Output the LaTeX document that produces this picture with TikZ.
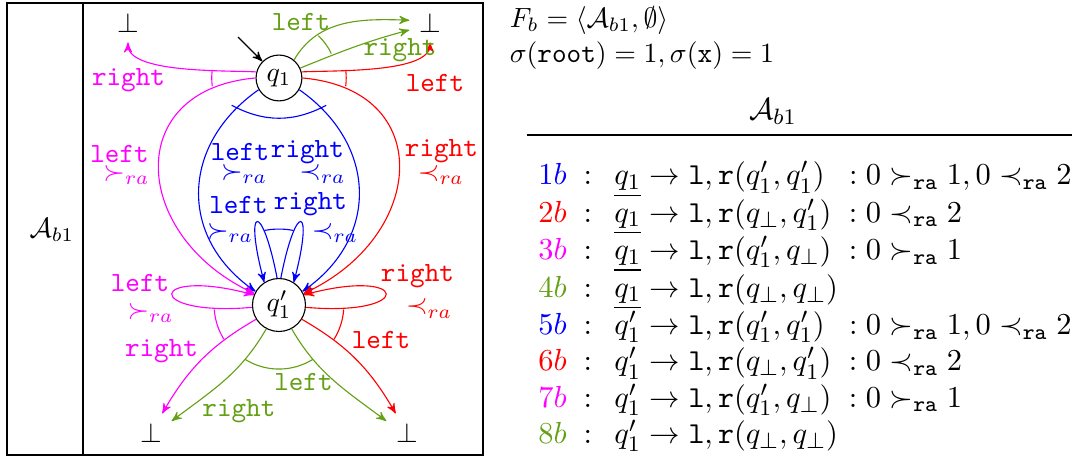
\documentclass[tikz,border=0pt]{standalone}
\usepackage{amsmath}
\usepackage{amssymb}
\usepackage{xcolor}
\usepackage{tikz}
\usetikzlibrary{arrows,positioning,calc}
\definecolor{leafgreen}{RGB}{100,160,20}
\definecolor{fuchsia}{RGB}{255,0,255}

\begin{document}
\begin{tikzpicture}[>=stealth',
    qstate/.style={circle,draw,inner sep=2pt},
    tlab/.style={font=\ttfamily},
    bigtext/.style={font=\fontsize{10.95}{13.6}\selectfont}]
    \useasboundingbox (0,0) rectangle (13.553,5.841);

    % Frame
    \draw[thick] (0.088,0.089) rectangle (6.106,5.803);
    \draw (1.049,0.089) -- (1.049,5.803);
    \node (aut) at (0.657,2.933) {$\mathcal{A}_{b1}$};

    % States
    \node[qstate] (q1) at (3.527,4.855) {$q_1$};
    \node[qstate] (q1p) at (3.527,1.985) {$q_1'$};
    \node (topL) at (1.618,5.55) {$\bot$};
    \node (topR) at (5.436,5.55) {$\bot$};
    \node (botL) at (1.909,0.367) {$\bot$};
    \node (botR) at (5.145,0.367) {$\bot$};
    \coordinate (init) at (3.009,5.373);
    \draw[->] (init) -- (q1);

    % 1b
    \draw[->,blue] (q1.-150) to[out=-145,in=145,looseness=1.2] (q1p.150);
    \draw[->,blue] (q1.-30) to[out=-35,in=35,looseness=1.2] (q1p.30);
    \draw[blue] ($(q1)+(-150:0.69)$) to[bend right=28] ($(q1)+(-30:0.69)$);
    \node[tlab,blue] (l1b) at (3.034,3.919) {left};
    \node[tlab,blue] (r1b) at (3.887,3.919) {right};
    \node[blue] (s1b) at (3.085,3.641) {$\succ_{ra}$};
    \node[blue] (p1b) at (4.077,3.641) {$\prec_{ra}$};

    % 2b
    \draw[->,red] (q1.15) to[out=3,in=-90,looseness=0.6] (topR);
    \draw[->,red] (q1.0) to[out=-5,in=25,looseness=1.6] (q1p.25);
    \draw[red] (q1) ++(-7:0.85) arc[start angle=-7,end angle=7,radius=0.85];
    \node[tlab,red] (l2b) at (5.499,4.791) {left};
    \node[tlab,red] (r2b) at (5.581,3.932) {right};
    \node[red] (p2b) at (5.575,3.628) {$\prec_{ra}$};

    % 3b
    \draw[->,fuchsia] (q1.165) to[out=177,in=-90,looseness=0.6] (topL);
    \draw[->,fuchsia] (q1.180) to[out=185,in=155,looseness=1.6] (q1p.155);
    \draw[fuchsia] (q1) ++(173:0.85) arc[start angle=173,end angle=187,radius=0.85];
    \node[tlab,fuchsia] (r3b) at (1.625,4.829) {right};
    \node[tlab,fuchsia] (l3b) at (1.511,3.894) {left};
    \node[fuchsia] (s3b) at (1.599,3.628) {$\succ_{ra}$};

    % 4b
    \draw[->,leafgreen] (q1.50) to[out=60,in=178] ([yshift=1pt]topR.west);
    \draw[->,leafgreen] (q1.25) to[out=22,in=195] ([yshift=-2.5pt]topR.west);
    \draw[leafgreen] (q1) ++(25:0.73) arc[start angle=25,end angle=47,radius=0.73];
    \node[tlab,leafgreen] (l4b) at (3.805,5.563) {left};
    \node[tlab,leafgreen] (r4b) at (5.057,5.209) {right};

    % 5b
    \draw[->,blue] (q1p.94) .. controls +(101:1.01) and +(105:1.01) .. (q1p.123);
    \draw[->,blue] (q1p.86) .. controls +(79:1.01) and +(75:1.01) .. (q1p.57);
    \draw[blue] (q1p) ++(79:0.96) arc[start angle=79,end angle=101,radius=0.96];
    \node[tlab,blue] (l5b) at (3.015,3.249) {left};
    \node[tlab,blue] (r5b) at (3.925,3.262) {right};
    \node[blue] (s5b) at (2.908,2.895) {$\succ_{ra}$};
    \node[blue] (p5b) at (4.235,2.895) {$\prec_{ra}$};

    % 6b
    \draw[->,red] (q1p.-5) .. controls +(-5:1.39) and +(15:1.39) .. (q1p.22);
    \draw[->,red] (q1p.-32) to[out=-30,in=120] (botR.120);
    \draw[red] (q1p) ++(-32:0.82) arc[start angle=-32,end angle=-4,radius=0.82];
    \node[tlab,red] (r6b) at (5.278,2.351) {right};
    \node[red] (p6b) at (5.424,1.941) {$\prec_{ra}$};
    \node[tlab,red] (l6b) at (4.817,1.536) {left};

    % 7b
    \draw[->,fuchsia] (q1p.185) .. controls +(185:1.39) and +(165:1.39) .. (q1p.158);
    \draw[->,fuchsia] (q1p.-148) to[out=-150,in=60] (botL.60);
    \draw[fuchsia] (q1p) ++(184:0.82) arc[start angle=184,end angle=212,radius=0.82];
    \node[tlab,fuchsia] (l7b) at (1.770,2.257) {left};
    \node[fuchsia] (s7b) at (1.903,1.884) {$\succ_{ra}$};
    \node[tlab,fuchsia] (r7b) at (2.042,1.403) {right};

    % 8b
    \draw[->,leafgreen] (q1p.-118) to[out=-120,in=37] (botL.30);
    \draw[->,leafgreen] (q1p.-62) to[out=-60,in=143] (botR.150);
    \draw[leafgreen] (q1p) ++(-122:0.81) arc[start angle=-122,end angle=-58,radius=0.81];
    \node[tlab,leafgreen] (l8b) at (3.837,1.011) {left};
    \node[tlab,leafgreen] (r8b) at (3.021,0.645) {right};

    % Transition table
    \node[anchor=base west] (fb) at (6.321,5.499) {$F_b = \langle \mathcal{A}_{b1}, \emptyset \rangle$};
    \node[anchor=base west] (sig) at (6.321,5.057) {$\sigma(\mathtt{root}) = 1, \sigma(\mathtt{x}) = 1$};
    \node[bigtext] (hd) at (9.772,4.425) {$\mathcal{A}_{b1}$};
    \draw (6.662,4.134) -- (13.553,4.134);
    \node[bigtext,anchor=west,inner sep=0pt] (tab) at (6.625,1.96) {$\def\arraystretch{0.96}
      \begin{array}{l@{\hspace{8pt}}l@{\hspace{4pt}}l}
        {\color{blue}1b}\;: & \underline{q_1} \to \mathtt{l}, \mathtt{r}(q_1', q_1') & : 0 \succ_{\mathtt{ra}} 1, 0 \prec_{\mathtt{ra}} 2 \\
        {\color{red}2b}\;: & \underline{q_1} \to \mathtt{l}, \mathtt{r}(q_\bot, q_1') & : 0 \prec_{\mathtt{ra}} 2 \\
        {\color{fuchsia}3b}\;: & \underline{q_1} \to \mathtt{l}, \mathtt{r}(q_1', q_\bot) & : 0 \succ_{\mathtt{ra}} 1 \\
        {\color{leafgreen}4b}\;: & \underline{q_1} \to \mathtt{l}, \mathtt{r}(q_\bot, q_\bot) & \\
        {\color{blue}5b}\;: & q_1' \to \mathtt{l}, \mathtt{r}(q_1', q_1') & : 0 \succ_{\mathtt{ra}} 1, 0 \prec_{\mathtt{ra}} 2 \\
        {\color{red}6b}\;: & q_1' \to \mathtt{l}, \mathtt{r}(q_\bot, q_1') & : 0 \prec_{\mathtt{ra}} 2 \\
        {\color{fuchsia}7b}\;: & q_1' \to \mathtt{l}, \mathtt{r}(q_1', q_\bot) & : 0 \succ_{\mathtt{ra}} 1 \\
        {\color{leafgreen}8b}\;: & q_1' \to \mathtt{l}, \mathtt{r}(q_\bot, q_\bot) &
      \end{array}$};
\end{tikzpicture}
\end{document}
